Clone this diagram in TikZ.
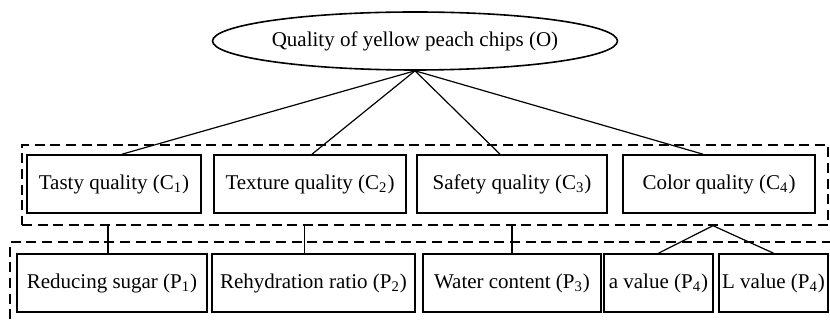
\documentclass[tikz,border=0pt]{standalone}
\usepackage{fontspec}
\setmainfont{Liberation Serif}
\usetikzlibrary{shapes.geometric, fit}

\begin{document}
\begin{tikzpicture}[x=0.5pt, y=-0.5pt,
  crit/.style={draw, line width=0.8pt, minimum height=29pt, inner sep=0pt, font=\fontsize{10.5}{12}\selectfont},
  grp/.style={draw, line width=0.7pt, dash pattern=on 5pt off 2.8pt, inner sep=0pt},
  link/.style={line width=0.6pt}]
  \useasboundingbox (0,0) rectangle (830,325);
  \clip (0,0) rectangle (830,325);

  % goal
  \node[crit, ellipse, minimum width=163pt] (O) at (415,41) {Quality of yellow peach chips (O)};

  % criteria
  \node[crit, minimum width=87pt] (C1) at (114,184) {Tasty quality (C\textsubscript{1})};
  \node[crit, minimum width=96pt] (C2) at (310,184) {Texture quality (C\textsubscript{2})};
  \node[crit, minimum width=95pt] (C3) at (512,184) {Safety quality (C\textsubscript{3})};
  \node[crit, minimum width=96pt] (C4) at (719,184) {Color quality (C\textsubscript{4})};

  % indicators
  \node[crit, minimum width=95pt] (P1) at (112,283) {Reducing sugar (P\textsubscript{1})};
  \node[crit, minimum width=101.5pt] (P2) at (313.5,283) {Rehydration ratio (P\textsubscript{2})};
  \node[crit, minimum width=89pt] (P3) at (512,283) {Water content (P\textsubscript{3})};
  \node[crit, minimum width=54.5pt] (P4a) at (658.5,283) {a value (P\textsubscript{4})};
  \node[crit, minimum width=54.5pt] (P4L) at (773.5,283) {L value (P\textsubscript{4})};

  % dashed groups
  \node[grp, fit={(22,145) (828,225)}] (grpC) {};
  \node[grp, fit={(10,242) (840,340)}] (grpP) {};

  \foreach \c/\dx in {C1/8,C2/2,C3/-12,C4/-16}
    \draw[link] (O.south) -- ([xshift=\dx*0.5pt]\c.north);
  \foreach \p/\dx in {P1/-4,P2/-9,P3/0}
    \draw[link] ([xshift=\dx*0.5pt]\p.north |- grpC.south) -- ([xshift=\dx*0.5pt]\p.north);
  \draw[link] (P4a.north) -- ([xshift=-3pt]C4.south |- grpC.south) -- (P4L.north);
\end{tikzpicture}
\end{document}
